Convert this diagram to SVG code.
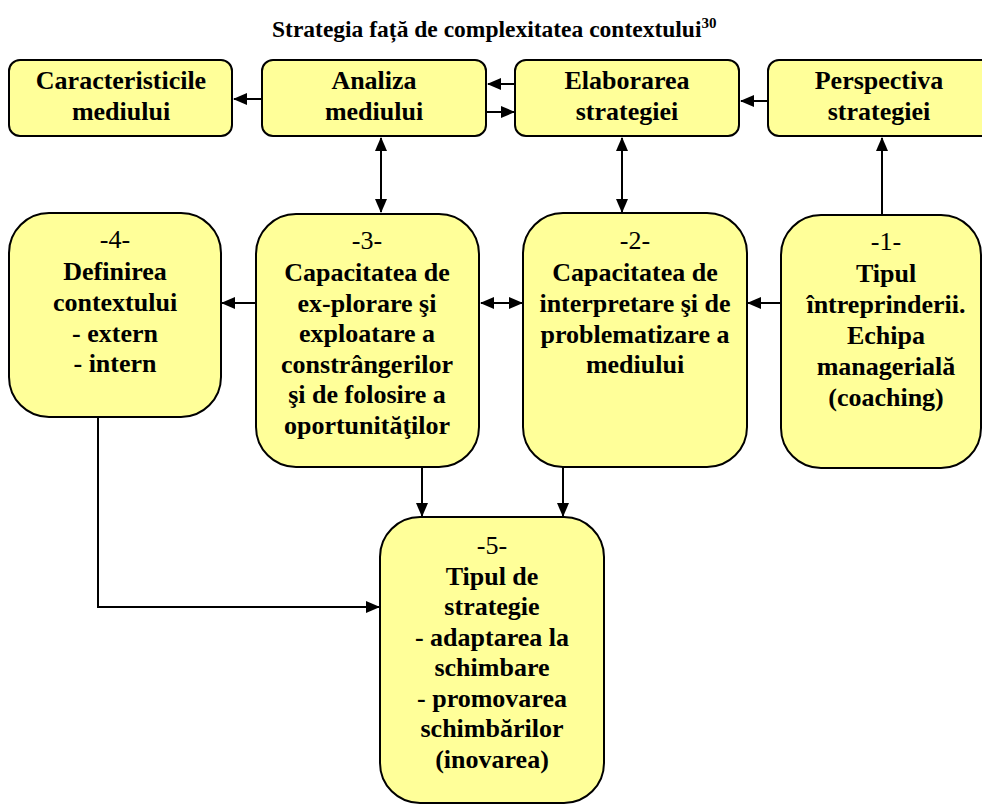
<svg xmlns="http://www.w3.org/2000/svg" width="982" height="805" viewBox="0 0 982 805">
<style>
.box{fill:#FFFF99;stroke:#000;stroke-width:2}
.t{font-family:'Liberation Serif','Times New Roman',Times,'DejaVu Serif',serif;font-size:26px;font-weight:bold;text-anchor:middle;fill:#000}
.n{font-weight:normal}
.title{font-family:'Liberation Serif','Times New Roman',Times,'DejaVu Serif',serif;font-size:23.5px;font-weight:bold;fill:#000}
.c{fill:none;stroke:#000;stroke-width:2}
</style>
<defs>
<marker id="ah" markerUnits="userSpaceOnUse" markerWidth="14" markerHeight="12" refX="13" refY="6" orient="auto-start-reverse" viewBox="0 0 14 12">
<path d="M0,0 L14,6 L0,12 Z" fill="#000"/>
</marker>
</defs>
<rect width="982" height="805" fill="#fff"/>
<text class="title" x="272" y="37">Strategia față de complexitatea contextului<tspan font-size="15" dy="-9">30</tspan></text>

<g id="connectors">
<line class="c" x1="262" y1="99" x2="234" y2="99" marker-end="url(#ah)"/>
<line class="c" x1="515" y1="84" x2="488" y2="84" marker-end="url(#ah)"/>
<line class="c" x1="487" y1="112" x2="514" y2="112" marker-end="url(#ah)"/>
<line class="c" x1="768" y1="101" x2="741" y2="101" marker-end="url(#ah)"/>
<line class="c" x1="381" y1="138" x2="381" y2="212" marker-start="url(#ah)" marker-end="url(#ah)"/>
<line class="c" x1="622" y1="138" x2="622" y2="212" marker-start="url(#ah)" marker-end="url(#ah)"/>
<line class="c" x1="882" y1="215" x2="882" y2="138" marker-end="url(#ah)"/>
<line class="c" x1="256" y1="303" x2="222" y2="303" marker-end="url(#ah)"/>
<line class="c" x1="481" y1="303" x2="522" y2="303" marker-start="url(#ah)" marker-end="url(#ah)"/>
<line class="c" x1="781" y1="303" x2="748" y2="303" marker-end="url(#ah)"/>
<line class="c" x1="422" y1="467" x2="422" y2="516" marker-end="url(#ah)"/>
<line class="c" x1="563" y1="467" x2="563" y2="516" marker-end="url(#ah)"/>
<polyline class="c" points="98,417 98,607 379,607" marker-end="url(#ah)"/>
</g>

<g id="caracteristicile">
<rect class="box" x="9" y="60" width="223" height="76" rx="11"/>
<text class="t" x="121" y="89">Caracteristicile</text>
<text class="t" x="121" y="120">mediului</text>
</g>
<g id="analiza">
<rect class="box" x="262" y="60" width="224" height="76" rx="11"/>
<text class="t" x="374" y="89">Analiza</text>
<text class="t" x="374" y="120">mediului</text>
</g>
<g id="elaborarea">
<rect class="box" x="515" y="60" width="224" height="76" rx="11"/>
<text class="t" x="627" y="89">Elaborarea</text>
<text class="t" x="627" y="120">strategiei</text>
</g>
<g id="perspectiva">
<rect class="box" x="768" y="60" width="224" height="76" rx="11"/>
<text class="t" x="879" y="89">Perspectiva</text>
<text class="t" x="879" y="120">strategiei</text>
</g>

<g id="n4">
<rect class="box" x="9" y="213" width="212" height="204" rx="40"/>
<text class="t n" x="115" y="248">-4-</text>
<text class="t" x="115" y="280">Definirea</text>
<text class="t" x="115" y="311">contextului</text>
<text class="t" x="115" y="342">- extern</text>
<text class="t" x="115" y="372">- intern</text>
</g>
<g id="n3">
<rect class="box" x="256" y="214" width="223" height="253" rx="40"/>
<text class="t n" x="367" y="249">-3-</text>
<text class="t" x="367" y="281">Capacitatea de</text>
<text class="t" x="367" y="312">ex-plorare şi</text>
<text class="t" x="367" y="342">exploatare a</text>
<text class="t" x="367" y="373">constrângerilor</text>
<text class="t" x="367" y="403">şi de folosire a</text>
<text class="t" x="367" y="434">oportunităţilor</text>
</g>
<g id="n2">
<rect class="box" x="523" y="213" width="224" height="254" rx="40"/>
<text class="t n" x="635" y="249">-2-</text>
<text class="t" x="635" y="281">Capacitatea de</text>
<text class="t" x="635" y="312">interpretare şi de</text>
<text class="t" x="635" y="343">problematizare a</text>
<text class="t" x="635" y="373">mediului</text>
</g>
<g id="n1">
<rect class="box" x="781" y="215" width="200" height="253" rx="40"/>
<text class="t n" x="886" y="250">-1-</text>
<text class="t" x="886" y="282">Tipul</text>
<text class="t" x="886" y="313">întreprinderii.</text>
<text class="t" x="886" y="344">Echipa</text>
<text class="t" x="886" y="375">managerială</text>
<text class="t" x="886" y="406">(coaching)</text>
</g>
<g id="n5">
<rect class="box" x="380" y="517" width="224" height="286" rx="40"/>
<text class="t n" x="492" y="554">-5-</text>
<text class="t" x="492" y="585">Tipul de</text>
<text class="t" x="492" y="615">strategie</text>
<text class="t" x="492" y="646">- adaptarea la</text>
<text class="t" x="492" y="676">schimbare</text>
<text class="t" x="492" y="707">- promovarea</text>
<text class="t" x="492" y="737">schimbărilor</text>
<text class="t" x="492" y="768">(inovarea)</text>
</g>
</svg>
